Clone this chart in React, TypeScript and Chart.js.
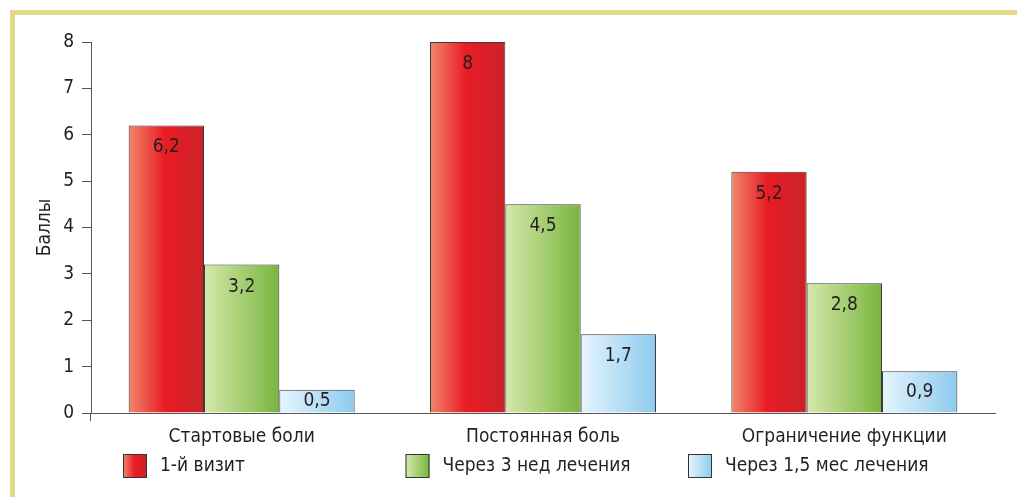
import React, { useEffect, useRef } from "react";
import { Chart, registerables } from "chart.js";

Chart.register(...registerables);

const categories = ["Стартовые боли", "Постоянная боль", "Ограничение функции"];
const seriesNames = ["1-й визит", "Через 3 нед лечения", "Через 1,5 мес лечения"];
const visit1 = [6.2, 8, 5.2];
const week3 = [3.2, 4.5, 2.8];
const month15 = [0.5, 1.7, 0.9];
const yMin = 0;
const yMax = 8;
const yTitle = "Баллы";

const FONT = "'Liberation Sans Narrow', 'DejaVu Sans Condensed', 'Roboto Condensed', Roboto, sans-serif";
const FSIZE = 19;

const gradStops: [number, string][][] = [
  [[0, "#f2866c"], [0.48, "#e81c25"], [1, "#cc2229"]],
  [[0, "#d6e8ac"], [1, "#78b53d"]],
  [[0, "#e6f5fd"], [1, "#8dcaee"]],
];
const solid = ["#e32026", "#a4cc6e", "#b8e0f6"];

function makeGrad(ctx: CanvasRenderingContext2D, x0: number, x1: number, idx: number) {
  const g = ctx.createLinearGradient(x0, 0, x1, 0);
  gradStops[idx].forEach(([o, c]) => g.addColorStop(o, c));
  return g;
}

const CAT_PCT = 0.75;

function barBg(idx: number) {
  return (c: any) => {
    const chart = c.chart;
    const x = chart.scales?.x;
    if (c.type !== "data" || !x || !chart.chartArea) return solid[idx];
    const catW = x.width / categories.length;
    const w = (catW * CAT_PCT) / 3;
    const center = x.getPixelForValue(c.dataIndex) + (idx - 1) * w;
    return makeGrad(chart.ctx, center - w / 2, center + w / 2, idx);
  };
}

const fmt = (v: number) => String(v).replace(".", ",");

const overlayPlugin = {
  id: "overlay",
  afterDatasetsDraw(chart: any) {
    const ctx = chart.ctx as CanvasRenderingContext2D;
    ctx.save();
    ctx.font = `${FSIZE}px ${FONT}`;
    ctx.fillStyle = "#231f20";
    ctx.textAlign = "center";
    ctx.textBaseline = "middle";
    chart.data.datasets.forEach((ds: any, di: number) => {
      const meta = chart.getDatasetMeta(di);
      meta.data.forEach((bar: any, i: number) => {
        const y = Math.min(bar.y + 22, (bar.y + bar.base) / 2);
        ctx.fillText(fmt(ds.data[i]), bar.x, y);
      });
    });
    ctx.restore();
  },
  afterDraw(chart: any) {
    const ctx = chart.ctx as CanvasRenderingContext2D;
    const area = chart.chartArea;
    ctx.save();
    ctx.font = `${FSIZE}px ${FONT}`;
    ctx.fillStyle = "#231f20";
    ctx.textAlign = "center";
    ctx.textBaseline = "middle";
    ctx.translate(45, (area.top + area.bottom) / 2);
    ctx.rotate(-Math.PI / 2);
    ctx.fillText(yTitle, 0, 0);
    ctx.restore();
    // legend
    ctx.save();
    const startX = area.left + 32;
    const step = 282.5;
    const y = 466;
    ctx.font = `${FSIZE}px ${FONT}`;
    ctx.textBaseline = "middle";
    ctx.textAlign = "left";
    seriesNames.forEach((name, i) => {
      const bx = startX + i * step;
      ctx.fillStyle = makeGrad(ctx, bx, bx + 24, i);
      ctx.fillRect(bx, y - 12, 24, 24);
      ctx.strokeStyle = "#333";
      ctx.lineWidth = 1;
      ctx.strokeRect(bx + 0.5, y - 11.5, 23, 23);
      ctx.fillStyle = "#231f20";
      ctx.fillText(name, bx + 37, y);
    });
    ctx.restore();
  },
};

export default function App() {
  const ref = useRef<HTMLCanvasElement>(null);
  useEffect(() => {
    if (!ref.current) return;
    const data = [visit1, week3, month15];
    const chart = new Chart(ref.current, {
      type: "bar",
      data: {
        labels: categories,
        datasets: data.map((d, i) => ({
          label: seriesNames[i],
          data: d,
          backgroundColor: barBg(i),
          borderColor: "#3a3a3a",
          borderWidth: 1,
          categoryPercentage: CAT_PCT,
          barPercentage: 1,
        })),
      },
      options: {
        animation: false,
        responsive: false,
        layout: { padding: { left: 0, right: 22, top: 42, bottom: 0 } },
        plugins: {
          legend: { display: false },
          tooltip: { enabled: false },
        },
        scales: {
          x: {
            offset: true,
            grid: {
              offset: true,
              drawOnChartArea: false,
              drawTicks: true,
              tickLength: 8,
              tickColor: (c: any) => (c.index === 0 || c.index === categories.length ? "#555" : "rgba(0,0,0,0)"),
              lineWidth: 1,
            },
            border: { display: true, color: "#555", width: 1 },
            ticks: {
              font: { family: FONT, size: FSIZE },
              color: "#231f20",
              padding: 5,
              maxRotation: 0,
              autoSkip: false,
            },
            afterFit: (s: any) => {
              s.height = 84;
            },
          },
          y: {
            min: yMin,
            max: yMax,
            grid: {
              drawOnChartArea: false,
              drawTicks: true,
              tickLength: 9,
              tickColor: "#555",
            },
            border: { display: true, color: "#555", width: 1 },
            ticks: {
              stepSize: 1,
              font: { family: FONT, size: FSIZE },
              color: "#231f20",
              padding: 8,
            },
            afterFit: (s: any) => {
              s.width = 91;
            },
          },
        },
      },
      plugins: [overlayPlugin],
    });
    return () => chart.destroy();
  }, []);

  return (
    <div style={{ position: "absolute", left: 0, top: 0, width: 1017, height: 497, background: "#fff", overflow: "hidden" }}>
      <div
        style={{
          position: "absolute",
          left: 10,
          top: 10,
          right: -10,
          bottom: -10,
          borderTop: "5px solid #e4d98b",
          borderLeft: "5px solid #e4d98b",
        }}
      />
      <canvas ref={ref} width={1017} height={497} style={{ position: "absolute", left: 0, top: 0, display: "block" }} />
    </div>
  );
}
